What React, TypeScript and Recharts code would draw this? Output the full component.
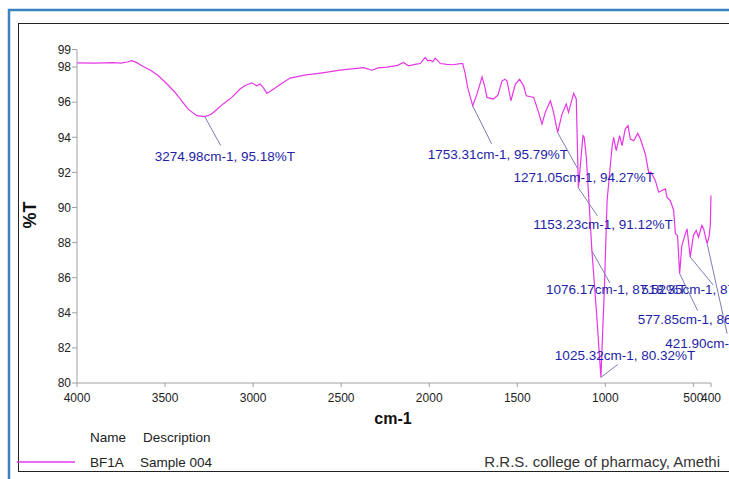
import { LineChart, Line, XAxis, YAxis, ReferenceDot } from "recharts";

// FTIR spectrum (cm-1 vs %T)
const wavenumbers = [
  4000, 3900, 3800, 3750, 3710, 3690, 3660, 3632, 3580, 3538, 3490, 3443, 3400, 3369, 3320, 3275, 3240, 3216,
  3170, 3121, 3074, 3045, 3007, 2979, 2960, 2940, 2922, 2885, 2840, 2790, 2700, 2638, 2570, 2506, 2440, 2373,
  2326, 2290, 2240, 2180, 2146, 2118, 2080, 2051, 2023, 2008, 1994, 1980, 1966, 1950, 1937, 1900, 1862, 1824,
  1810, 1795, 1782, 1753, 1729, 1700, 1685, 1672, 1635, 1610, 1587, 1570, 1558, 1536, 1511, 1487, 1464, 1449,
  1407, 1379, 1360, 1341, 1312, 1294, 1271, 1246, 1222, 1209, 1180, 1165, 1153, 1127, 1120, 1108, 1076, 1050,
  1025, 1005, 990, 962, 953, 938, 919, 905, 887, 871, 858, 839, 816, 801, 773, 754, 740, 716, 697, 678, 659,
  650, 631, 612, 602, 590, 578, 566, 549, 536, 518, 500, 484, 471, 452, 442, 429, 422, 410, 404, 400,
];
const transmittance = [
  98.24, 98.22, 98.25, 98.22, 98.3, 98.36, 98.25, 98.07, 97.8, 97.5, 97.05, 96.55, 96.0, 95.6, 95.23, 95.18, 95.3, 95.5,
  95.9, 96.27, 96.75, 96.95, 97.1, 96.93, 97.03, 96.8, 96.5, 96.74, 97.05, 97.37, 97.55, 97.63, 97.72, 97.82, 97.9, 97.97,
  97.82, 97.95, 98.0, 98.1, 98.26, 98.07, 98.15, 98.2, 98.54, 98.35, 98.39, 98.3, 98.5, 98.35, 98.2, 98.15, 98.13, 98.2,
  98.2, 97.6, 96.84, 95.79, 96.46, 97.44, 96.9, 96.27, 96.18, 96.4, 97.2, 97.3, 97.2, 96.08, 97.03, 97.3, 96.93, 96.36,
  96.27, 95.42, 94.75, 95.42, 96.08, 95.42, 94.27, 95.32, 95.89, 95.42, 96.5, 96.18, 91.12, 94.09, 94.0, 92.86, 87.52, 84.0,
  80.32, 85.5, 90.4, 93.43, 94.0, 93.24, 94.09, 93.52, 94.47, 94.66, 93.9, 93.8, 94.22, 93.9, 93.05, 92.0, 92.0, 91.53, 90.87, 90.97, 91.06,
  90.59, 90.4, 89.83, 88.5, 88.4, 86.23, 87.8, 88.4, 88.79, 87.18, 88.4, 88.69, 88.31, 88.98, 88.79, 88.22, 87.94, 88.4, 89.0, 90.68,
];

const xTicks = [4000, 3500, 3000, 2500, 2000, 1500, 1000, 500, 400];
const yTicks = [80, 82, 84, 86, 88, 90, 92, 94, 96, 98, 99];

// picked peaks
const peakWn = [3274.98, 1753.31, 1271.05, 1153.23, 1076.17, 518.35, 577.85, 421.9, 1025.32];
const peakT = [95.18, 95.79, 94.27, 91.12, 87.52, 87.18, 86.23, 87.94, 80.32];

const spectrum = wavenumbers.map((wn, i) => ({ wn, t: transmittance[i] }));
const peakLabels = peakWn.map((w, i) => `${w.toFixed(2)}cm-1, ${peakT[i].toFixed(2)}%T`);

// leader end (dx, dy) and label start (dx, dy), pixels from the peak
const labelOffsets = [
  [16, 29, -50, 44],
  [19, 38, -45, 53],
  [20, 36, -44, 49],
  [19, 28, -45, 41],
  [18, 32, -46, 43],
  [23, 28, -49, 37],
  [18, 37, -42, 50],
  [20, 90, -42, 104],
  [17, -13, -46, -17],
];

const CURVE = "#e636e6";
const FONT = "'Liberation Sans', Arial, sans-serif";

function peakShape(i: number) {
  return (props: any) => {
    const { cx, cy } = props;
    const [ex, ey, tx, ty] = labelOffsets[i];
    return (
      <g>
        <line x1={cx} y1={cy} x2={cx + ex} y2={cy + ey} stroke="#7c7cb8" strokeWidth={1} />
        <text x={cx + tx} y={cy + ty} fontSize={13.5} fill="#1e1ea6" fontFamily={FONT}>
          {peakLabels[i]}
        </text>
      </g>
    );
  };
}

export default function App() {
  return (
    <div style={{ position: "absolute", left: 0, top: 0, width: 729, height: 479, background: "#fff", fontFamily: FONT }}>
      <svg width={729} height={479} style={{ position: "absolute", left: 0, top: 0 }}>
        <rect x={9} y={10} width={740} height={480} fill="none" stroke="#3b82c4" strokeWidth={2.5} />
        <rect x={18.5} y={23.5} width={740} height={448} fill="none" stroke="#222" strokeWidth={1} />
        <text x={30} y={215} transform="rotate(-90 30 215)" textAnchor="middle" dominantBaseline="central"
          fontSize={18} fontWeight="bold" fill="#111">%T</text>
        <text x={393} y={424} textAnchor="middle" fontSize={16} fontWeight="bold" fill="#111">cm-1</text>
        <text x={90} y={442} fontSize={13.5} fill="#222">Name</text>
        <text x={143} y={442} fontSize={13.5} fill="#222">Description</text>
        <line x1={17} y1={462} x2={75} y2={462} stroke={CURVE} strokeWidth={1.5} />
        <text x={90} y={467} fontSize={13.5} fill="#222">BF1A</text>
        <text x={140} y={467} fontSize={13.5} fill="#222">Sample 004</text>
        <text x={720} y={467} textAnchor="end" fontSize={15} fill="#333">R.R.S. college of pharmacy, Amethi</text>
      </svg>
      <div style={{ position: "absolute", left: 0, top: 0 }}>
        <LineChart width={729} height={479} data={spectrum} margin={{ top: 49.5, right: 18, bottom: 66, left: 17 }}>
          <XAxis
            dataKey="wn"
            type="number"
            domain={[400, 4000]}
            reversed
            ticks={xTicks}
            interval={0}
            height={30}
            tickSize={4}
            tickMargin={6}
            stroke="#a0a0a0"
            tick={{ fontSize: 12, fill: "#222", fontFamily: FONT }}
          />
          <YAxis
            type="number"
            domain={[80, 99]}
            ticks={yTicks}
            interval={0}
            width={60}
            tickSize={5}
            tickMargin={1}
            stroke="#a0a0a0"
            tick={{ fontSize: 12, fill: "#222", fontFamily: FONT }}
          />
          <Line dataKey="t" type="linear" stroke={CURVE} strokeWidth={1.2} dot={false} isAnimationActive={false} />
          {peakWn.map((w, i) => (
            <ReferenceDot key={w} x={w} y={peakT[i]} shape={peakShape(i)} />
          ))}
        </LineChart>
      </div>
    </div>
  );
}
